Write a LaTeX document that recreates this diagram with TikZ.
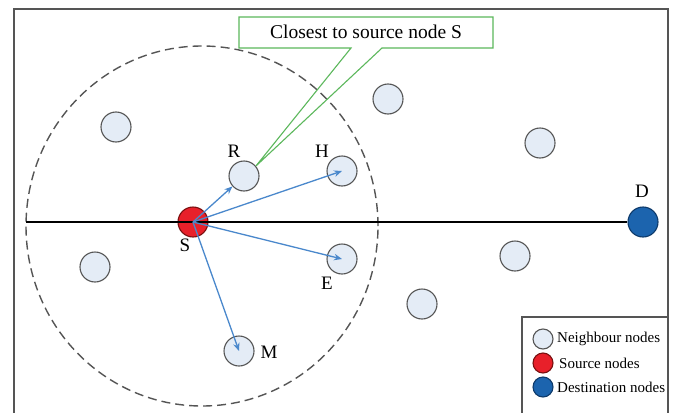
\documentclass[tikz,border=0pt]{standalone}
\usepackage{fontspec}
\setmainfont{Liberation Serif}
\usetikzlibrary{arrows.meta}
\definecolor{nbfill}{HTML}{E4ECF6}
\definecolor{nbline}{HTML}{555555}
\definecolor{srcred}{HTML}{E8202A}
\definecolor{srcline}{HTML}{7A1010}
\definecolor{dstblue}{HTML}{1C64AE}
\definecolor{dstline}{HTML}{0E3A6A}
\definecolor{arrblue}{HTML}{4A88CC}
\definecolor{callgreen}{HTML}{5CB85C}
\definecolor{framegray}{HTML}{555555}
\tikzset{
  nb/.style={circle, draw=nbline, fill=nbfill, line width=1.1pt, minimum size=30pt, inner sep=0pt},
  src/.style={circle, draw=srcline, fill=srcred, line width=1.1pt, minimum size=30pt, inner sep=0pt},
  dst/.style={circle, draw=dstline, fill=dstblue, line width=1.1pt, minimum size=30pt, inner sep=0pt},
  lbl/.style={font=\fontsize{19}{21}\selectfont, inner sep=0pt},
  legtxt/.style={font=\fontsize{15}{17}\selectfont, anchor=west, inner sep=0pt},
  arr/.style={draw=arrblue, line width=1.3pt, -{Stealth[length=8pt,width=6.5pt]}},
  rangeline/.style={draw=framegray, line width=1.4pt, dash pattern=on 9pt off 5pt},
  callout/.style={draw=callgreen, line width=1.1pt},
  framestyle/.style={draw=framegray, line width=1.7pt}
}
\begin{document}
\begin{tikzpicture}[x=1pt, y=-1pt]
\clip (0,0) rectangle (676,412);
\fill[white] (0,0) rectangle (676,412);

% outer frame (open at the bottom)
\draw[framestyle] (14,430) -- (14,9) -- (668,9) -- (668,430);

% communication range of S
\draw[rangeline] (202,226) ellipse [x radius=176pt, y radius=180pt];

% neighbour nodes
\node[nb] (R) at (244,176) {};
\node[nb] (H) at (342,171) {};
\node[nb] (E) at (342,259) {};
\node[nb] (M) at (239,351) {};
\node[nb] (n1) at (116,127) {};
\node[nb] (n2) at (388,99) {};
\node[nb] (n3) at (540,143) {};
\node[nb] (n4) at (515,256) {};
\node[nb] (n5) at (422,304) {};
\node[nb] (n6) at (95,267) {};

% source and destination
\node[src] (S) at (193,222) {};
\node[dst] (D) at (643,222) {};

% line from the edge of the range to the destination
\coordinate (L) at (26,222);
\draw[line width=2.6pt, black] (L) -- (D.west);

% forwarding arrows from S
\draw[arr] (S.center) -- (R);
\draw[arr] (S.center) -- (H.center);
\draw[arr] (S.center) -- (E.center);
\draw[arr] (S.center) -- (M.center);

% node labels
\node[lbl] (lR) at (234,151) {R};
\node[lbl] (lH) at (322,151) {H};
\node[lbl] (lS) at (185,245) {S};
\node[lbl] (lE) at (327,283) {E};
\node[lbl] (lM) at (269,352) {M};
\node[lbl] (lD) at (642,191) {D};

% callout
\draw[callout] (351,48) -- (R.40) -- (382,48) -- (493,48) -- (493,17) -- (239,17) -- (239,48) -- cycle;
\node[font=\fontsize{19.5}{21}\selectfont, inner sep=0pt] (cap) at (366,32) {Closest to source node S};

% legend
\draw[framestyle, line width=1.3pt] (522,430) -- (522,317) -- (668,317);
\node[nb, minimum size=20pt] (kN) at (543,339) {};
\node[src, minimum size=20pt] (kS) at (543,363) {};
\node[dst, minimum size=20pt] (kD) at (543,387) {};
\node[legtxt] (tN) at (557,339) {Neighbour nodes};
\node[legtxt] (tS) at (559,363) {Source nodes};
\node[legtxt] (tD) at (557,387) {Destination nodes};
\end{tikzpicture}
\end{document}
